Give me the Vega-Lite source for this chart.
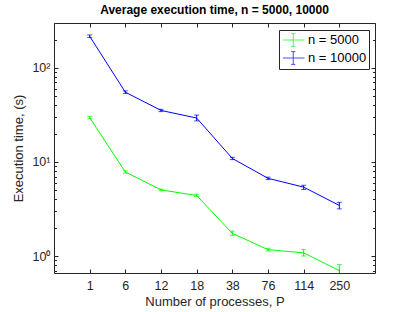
{
  "$schema": "https://vega.github.io/schema/vega-lite/v6.json",
  "width": 321,
  "height": 250,
  "autosize": "none",
  "padding": {"left": 54, "top": 23, "right": 40, "bottom": 39},
  "background": "white",
  "config": {
    "font": "Liberation Sans",
    "view": {"stroke": "#262626", "strokeWidth": 1},
    "axis": {"domain": false, "grid": false, "tickColor": "#262626", "labelColor": "#262626", "titleColor": "#262626", "labelFontSize": 12.5, "titleFontSize": 13, "titleFontWeight": "normal", "tickWidth": 1}
  },
  "title": {"text": "Average execution time, n = 5000, 10000", "fontSize": 12, "fontWeight": "bold", "color": "#000000", "anchor": "middle", "offset": 6},
  "data": {"values": [
    {"P": "1", "n": "n = 5000", "t": 29.6, "lo": 28.8, "hi": 30.5},
    {"P": "6", "n": "n = 5000", "t": 7.83, "lo": 7.6, "hi": 8.05},
    {"P": "12", "n": "n = 5000", "t": 5.05, "lo": 4.95, "hi": 5.15},
    {"P": "18", "n": "n = 5000", "t": 4.4, "lo": 4.3, "hi": 4.55},
    {"P": "38", "n": "n = 5000", "t": 1.74, "lo": 1.66, "hi": 1.84},
    {"P": "76", "n": "n = 5000", "t": 1.17, "lo": 1.13, "hi": 1.21},
    {"P": "114", "n": "n = 5000", "t": 1.08, "lo": 1.0, "hi": 1.17},
    {"P": "250", "n": "n = 5000", "t": 0.7, "lo": 0.6, "hi": 0.81},
    {"P": "1", "n": "n = 10000", "t": 217, "lo": 210, "hi": 224},
    {"P": "6", "n": "n = 10000", "t": 55.2, "lo": 53.5, "hi": 57},
    {"P": "12", "n": "n = 10000", "t": 35.3, "lo": 34.3, "hi": 36.3},
    {"P": "18", "n": "n = 10000", "t": 29.3, "lo": 27.3, "hi": 31.5},
    {"P": "38", "n": "n = 10000", "t": 10.9, "lo": 10.6, "hi": 11.2},
    {"P": "76", "n": "n = 10000", "t": 6.7, "lo": 6.5, "hi": 6.9},
    {"P": "114", "n": "n = 10000", "t": 5.4, "lo": 5.1, "hi": 5.65},
    {"P": "250", "n": "n = 10000", "t": 3.45, "lo": 3.17, "hi": 3.72}
  ]},
  "layer": [
    {
      "encoding": {
        "x": {"field": "P", "type": "ordinal", "sort": null, "scale": {"type": "point", "padding": 1},
          "axis": {"title": "Number of processes, P", "labelAngle": 0, "tickSize": -4, "labelPadding": 10, "titlePadding": 4}},
        "color": {"field": "n", "type": "nominal",
          "scale": {"domain": ["n = 5000", "n = 10000"], "range": ["#00ff00", "#0000ff"]},
          "legend": {"title": null, "orient": "none", "legendX": 225, "legendY": 7, "padding": 2, "fillColor": "white", "strokeColor": "#262626", "labelFontSize": 13, "labelColor": "#000000", "symbolType": "M-0.85,0H2.2M0.6,-0.9V0.9M0.3,-0.9H0.9M0.3,0.9H0.9", "symbolSize": 200, "symbolStrokeWidth": 1, "labelOffset": 11, "rowPadding": 0}}
      },
      "layer": [
        {"mark": {"type": "line", "strokeWidth": 1, "clip": true},
          "encoding": {"y": {"field": "t", "type": "quantitative", "scale": {"type": "log", "domain": [0.66, 300], "nice": false},
            "axis": {"title": "Execution time, (s)", "values": [0.7, 0.8, 0.9, 1, 2, 3, 4, 5, 6, 7, 8, 9, 10, 20, 30, 40, 50, 60, 70, 80, 90, 100, 200, 300],
              "labelExpr": "datum.value == 1 ? '10⁰' : datum.value == 10 ? '10¹' : datum.value == 100 ? '10²' : ''",
              "tickSize": {"condition": {"test": "datum.value == 1 || datum.value == 10 || datum.value == 100", "value": -4}, "value": -2.5},
              "labelPadding": 8, "titlePadding": 6}}}},
        {"mark": {"type": "rule", "strokeWidth": 1, "clip": true},
          "encoding": {"y": {"field": "lo", "type": "quantitative"}, "y2": {"field": "hi"}}},
        {"mark": {"type": "tick", "thickness": 1, "size": 5, "clip": true},
          "encoding": {"y": {"field": "lo", "type": "quantitative"}}},
        {"mark": {"type": "tick", "thickness": 1, "size": 5, "clip": true},
          "encoding": {"y": {"field": "hi", "type": "quantitative"}}}
      ]
    },
    {
      "mark": {"type": "point", "opacity": 0},
      "encoding": {
        "x": {"field": "P", "type": "ordinal", "sort": null, "axis": {"orient": "top", "labels": false, "title": null, "tickSize": -4}},
        "y": {"field": "t", "type": "quantitative",
          "axis": {"orient": "right", "labels": false, "title": null, "values": [0.7, 0.8, 0.9, 1, 2, 3, 4, 5, 6, 7, 8, 9, 10, 20, 30, 40, 50, 60, 70, 80, 90, 100, 200, 300],
            "tickSize": {"condition": {"test": "datum.value == 1 || datum.value == 10 || datum.value == 100", "value": -4}, "value": -2.5}}}
      }
    }
  ],
  "resolve": {"axis": {"x": "independent", "y": "independent"}}
}
